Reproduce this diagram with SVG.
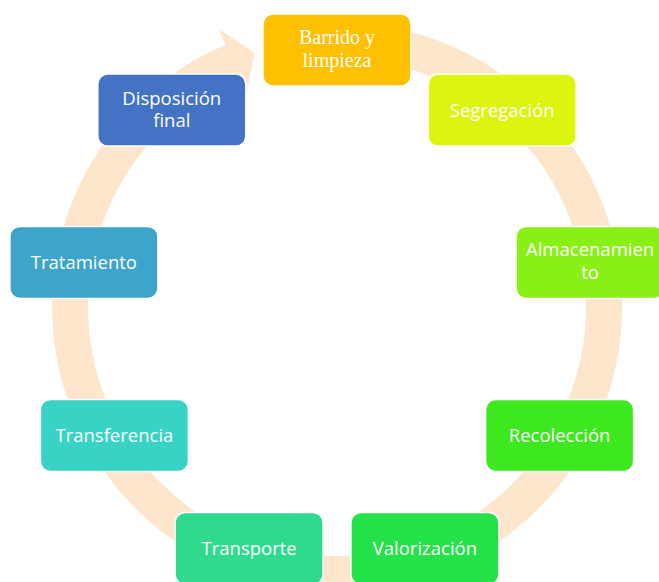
<svg xmlns="http://www.w3.org/2000/svg" width="659" height="582" viewBox="0 0 659 582">
<style>
.box{stroke:#ffffff;stroke-width:1.5}
.t{fill:#ffffff;font-family:"Open Sans","Noto Sans",sans-serif;font-size:18.5px;text-anchor:middle}
.ts{fill:#ffffff;font-family:"Liberation Serif","Times New Roman",serif;font-size:20px;text-anchor:middle}
.ring{fill:#FDE6CC}
</style>
<rect width="659" height="582" fill="#ffffff"/>
<g id="connectors">
<path class="ring" d="M 337 22 A 285 285 0 1 1 225.6 44.7 L 219.0 29.0 L 254.5 53.1 L 246.4 93.4 L 239.7 77.8 A 249 249 0 1 0 337 58 Z"/>
</g>
<g id="node-barrido">
<rect class="box" x="263" y="14" width="148" height="72" rx="10" fill="#FFC000"/>
<text class="ts" x="337" y="44">Barrido y</text>
<text class="ts" x="337" y="67">limpieza</text>
</g>
<g id="node-segregacion">
<rect class="box" x="428.2" y="74.1" width="148" height="72" rx="10" fill="#DBF50F"/>
<text class="t" x="502.2" y="116.6">Segregación</text>
</g>
<g id="node-almacenamiento">
<rect class="box" x="516.1" y="226.4" width="148" height="72" rx="10" fill="#89F016"/>
<text class="t" x="590.1" y="255.8">Almacenamien</text>
<text class="t" x="590.1" y="278.6">to</text>
</g>
<g id="node-recoleccion">
<rect class="box" x="485.6" y="399.5" width="148" height="72" rx="10" fill="#3DE81E"/>
<text class="t" x="559.6" y="442">Recolección</text>
</g>
<g id="node-valorizacion">
<rect class="box" x="350.9" y="512.5" width="148" height="72" rx="10" fill="#25E24A"/>
<text class="t" x="424.9" y="555">Valorización</text>
</g>
<g id="node-transporte">
<rect class="box" x="175.1" y="512.5" width="148" height="72" rx="10" fill="#2FDA8F"/>
<text class="t" x="249.1" y="555">Transporte</text>
</g>
<g id="node-transferencia">
<rect class="box" x="40.4" y="399.5" width="148" height="72" rx="10" fill="#38D3C4"/>
<text class="t" x="114.4" y="442">Transferencia</text>
</g>
<g id="node-tratamiento">
<rect class="box" x="9.9" y="226.4" width="148" height="72" rx="10" fill="#3DA5CB"/>
<text class="t" x="83.9" y="268.9">Tratamiento</text>
</g>
<g id="node-disposicion">
<rect class="box" x="97.8" y="74.1" width="148" height="72" rx="10" fill="#4472C4"/>
<text class="t" x="171.8" y="104.6">Disposición</text>
<text class="t" x="171.8" y="127.4">final</text>
</g>
</svg>
